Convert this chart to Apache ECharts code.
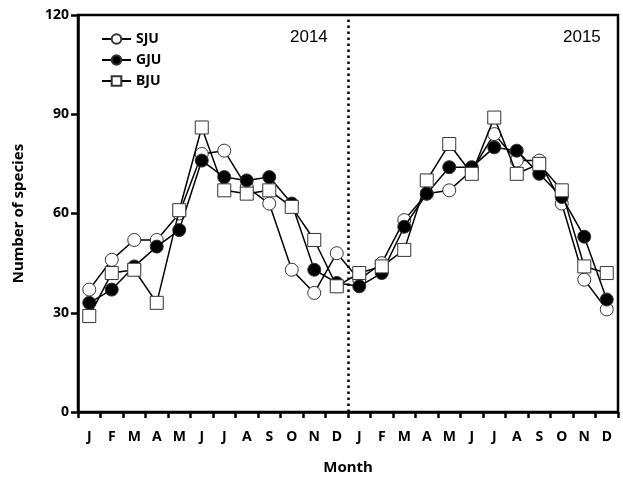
<!DOCTYPE html>
<html>
<head>
<meta charset="utf-8">
<script src="https://cdn.jsdelivr.net/npm/echarts@6/dist/echarts.min.js"></script>
<style>html,body{margin:0;padding:0;background:#fff}#c{width:623px;height:480px}</style>
</head>
<body>
<div id="c"></div>
<script>
var months = ['J','F','M','A','M','J','J','A','S','O','N','D','J','F','M','A','M','J','J','A','S','O','N','D'];
var sju = [37,46,52,52,60,78,79,68,63,43,36,48, 40,45,58,66,67,73,84,76,76,63,40,31];
var gju = [33,37,44,50,55,76,71,70,71,63,43,39, 38,42,56,66,74,74,80,79,72,65,53,34];
var bju = [29,42,43,33,61,86,67,66,67,62,52,38, 42,44,49,70,81,72,89,72,75,67,44,42];
var yTicks = [0,30,60,90,120];
var yearLabels = ['2014','2015'];
var yearBreak = 12; // boundary between Dec 2014 and Jan 2015 (in month units)

var font = '"Noto Sans", "DejaVu Sans", sans-serif';
var chart = echarts.init(document.getElementById('c'), null, {renderer:'canvas'});
function mk(name, data, symbol, fill, z) {
  return {
    name: name, type: 'line', data: data, symbol: symbol, symbolSize: 13,
    z: z,
    lineStyle: {color: '#000', width: 1.5},
    itemStyle: {color: fill, borderColor: '#333', borderWidth: 1},
    emphasis: {disabled: true},
    animation: false
  };
}
chart.setOption({
  animation: false,
  grid: {left: 78, right: 5, top: 15, bottom: 68, show: true, borderColor: '#000', borderWidth: 2.5},
  legend: {
    orient: 'vertical', left: 96, top: 27, itemWidth: 29, itemHeight: 12, itemGap: 7,
    textStyle: {fontFamily: font, fontWeight: 'bold', fontSize: 14, color: '#000'},
    data: ['SJU','GJU','BJU']
  },
  xAxis: [{
    type: 'category', data: months, boundaryGap: true,
    axisLine: {lineStyle: {color: '#000', width: 2.5}},
    axisTick: {show: true, length: 6, lineStyle: {color: '#000', width: 2.5}, interval: 0},
    axisLabel: {interval: 0, color: '#000', fontFamily: font, fontWeight: 'bold', fontSize: 14, margin: 18},
    splitLine: {show: false},
    name: 'Month', nameLocation: 'middle', nameGap: 48,
    nameTextStyle: {color: '#000', fontFamily: font, fontWeight: 'bold', fontSize: 15}
  }, {
    type: 'value', min: 0, max: months.length, position: 'top', show: false
  }],
  yAxis: {
    type: 'value', min: yTicks[0], max: yTicks[yTicks.length-1], interval: 30,
    axisLine: {show: true, lineStyle: {color: '#000', width: 2.5}},
    axisTick: {show: true, length: 7, lineStyle: {color: '#000', width: 2.5}},
    axisLabel: {color: '#000', fontFamily: font, fontWeight: 'bold', fontSize: 14, margin: 9},
    splitLine: {show: false},
    name: 'Number of species', nameLocation: 'middle', nameGap: 52,
    nameTextStyle: {color: '#000', fontFamily: font, fontWeight: 'bold', fontSize: 15}
  },
  graphic: [
    {type: 'text', left: 290, top: 29, style: {text: yearLabels[0], font: '17px "Liberation Sans", Arial, sans-serif', fill: '#000'}},
    {type: 'text', left: 563, top: 29, style: {text: yearLabels[1], font: '17px "Liberation Sans", Arial, sans-serif', fill: '#000'}}
  ],
  series: [
    {
      type: 'line', xAxisIndex: 1, data: [], silent: true, z: 1,
      markLine: {
        silent: true, symbol: 'none', label: {show: false},
        lineStyle: {color: '#000', width: 2.5, type: [2.5, 3.5]},
        data: [{xAxis: yearBreak}]
      }
    },
    mk('SJU', sju, 'circle', '#fff', 2),
    mk('GJU', gju, 'circle', '#000', 3),
    mk('BJU', bju, 'rect', '#fff', 4)
  ]
});
</script>
</body>
</html>
